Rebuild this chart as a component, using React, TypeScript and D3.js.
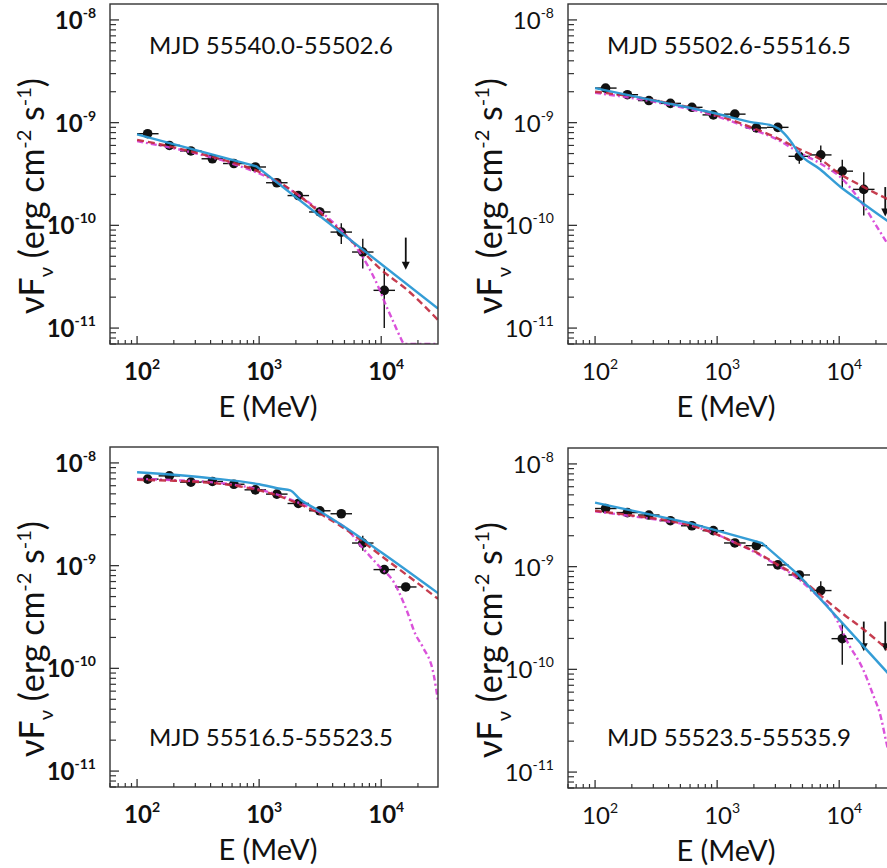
import React from 'react';
import * as d3 from 'd3';

// ---------- shared energy bins (MeV) ----------
const BIN_LO = [100, 150, 225, 337.5, 506, 759, 1139, 1709, 2563, 3844, 5767, 8650, 12975, 19462];
const BIN_HI = [150, 225, 337.5, 506, 759, 1139, 1709, 2563, 3844, 5767, 8650, 12975, 19462, 29193];
const BIN_C = [122, 184, 276, 414, 621, 931, 1397, 2095, 3139, 4709, 7063, 10595, 15891, 23836];

const X_TICKS = [100, 1000, 10000];
const X_TICK_EXP = ['2', '3', '4'];
const Y_TICKS = [1e-8, 1e-9, 1e-10, 1e-11];
const Y_TICK_EXP = ['-8', '-9', '-10', '-11'];

const TITLES = ['MJD 55540.0-55502.6', 'MJD 55502.6-55516.5', 'MJD 55516.5-55523.5', 'MJD 55523.5-55535.9'];

// ---------- panel A ----------
const A_FLUX = [7.8e-10, 6.0e-10, 5.3e-10, 4.45e-10, 4.0e-10, 3.7e-10, 2.6e-10, 1.95e-10, 1.35e-10, 8.6e-11, 5.5e-11, 2.33e-11];
const A_LO = [7.3e-10, 5.6e-10, 4.95e-10, 4.15e-10, 3.75e-10, 3.45e-10, 2.4e-10, 1.8e-10, 1.2e-10, 6.6e-11, 3.8e-11, 1.0e-11];
const A_HI = [8.3e-10, 6.4e-10, 5.65e-10, 4.75e-10, 4.25e-10, 3.95e-10, 2.8e-10, 2.1e-10, 1.5e-10, 1.05e-10, 7.4e-11, 3.8e-11];
const A_UL_BIN = [12];
const A_UL_TOP = [7.6e-11];
const A_UL_TIP = [3.7e-11];
const A_BLUE_E = [100, 950, 29193];
const A_BLUE_F = [7.7e-10, 3.75e-10, 1.55e-11];
const A_RED_E = [100, 150, 250, 400, 600, 900, 1400, 2000, 3000, 4600, 7000, 10000, 16000, 29193];
const A_RED_F = [6.8e-10, 6.2e-10, 5.4e-10, 4.7e-10, 4.1e-10, 3.5e-10, 2.7e-10, 2.05e-10, 1.4e-10, 8.9e-11, 5.6e-11, 3.7e-11, 2.4e-11, 1.2e-11];
const A_MAG_E = [100, 250, 600, 1400, 2500, 4600, 6000, 7900, 9500, 11100, 12800, 14300, 15500, 29193];
const A_MAG_F = [6.6e-10, 5.3e-10, 4.0e-10, 2.65e-10, 1.7e-10, 9.2e-11, 6.5e-11, 3.9e-11, 2.5e-11, 1.6e-11, 1.1e-11, 8.2e-12, 7e-12, 7e-12];

// ---------- panel B ----------
const B_FLUX = [2.17e-9, 1.87e-9, 1.64e-9, 1.54e-9, 1.41e-9, 1.19e-9, 1.21e-9, 8.9e-10, 9.0e-10, 4.7e-10, 4.85e-10, 3.37e-10, 2.24e-10];
const B_LO = [2.05e-9, 1.77e-9, 1.55e-9, 1.46e-9, 1.33e-9, 1.11e-9, 1.12e-9, 8.1e-10, 8.1e-10, 3.97e-10, 4.12e-10, 2.27e-10, 1.25e-10];
const B_HI = [2.3e-9, 1.97e-9, 1.74e-9, 1.63e-9, 1.49e-9, 1.27e-9, 1.3e-9, 9.7e-10, 9.9e-10, 5.35e-10, 5.98e-10, 4.35e-10, 3.29e-10];
const B_UL_BIN = [13];
const B_UL_TOP = [2.36e-10];
const B_UL_TIP = [1.22e-10];
const B_BLUE_E = [100, 300, 1000, 2000, 2700, 3200, 4000, 4640, 7000, 10260, 15000, 25700, 29193];
const B_BLUE_F = [2.17e-9, 1.65e-9, 1.22e-9, 1.0e-9, 9.5e-10, 8.7e-10, 6.6e-10, 5.1e-10, 3.5e-10, 2.36e-10, 1.7e-10, 1.08e-10, 9.8e-11];
const B_RED_E = [100, 200, 400, 700, 1000, 1500, 2000, 3000, 4600, 7000, 10000, 15000, 20000, 29193];
const B_RED_F = [2.0e-9, 1.8e-9, 1.55e-9, 1.35e-9, 1.18e-9, 1.0e-9, 8.8e-10, 7.2e-10, 5.6e-10, 4.4e-10, 3.2e-10, 2.45e-10, 2.05e-10, 1.65e-10];
const B_MAG_E = [100, 300, 1000, 2000, 3000, 4600, 7000, 10260, 15500, 21300, 25700, 29193];
const B_MAG_F = [1.95e-9, 1.6e-9, 1.15e-9, 8.5e-10, 7.0e-10, 5.2e-10, 4.0e-10, 2.94e-10, 1.62e-10, 8.9e-11, 6.2e-11, 4.8e-11];

// ---------- panel C ----------
const C_FLUX = [6.95e-9, 7.48e-9, 6.5e-9, 6.6e-9, 6.2e-9, 5.47e-9, 4.97e-9, 4.03e-9, 3.42e-9, 3.2e-9, 1.66e-9, 9.15e-10, 6.2e-10];
const C_LO = [6.55e-9, 7.05e-9, 6.1e-9, 6.2e-9, 5.85e-9, 5.15e-9, 4.65e-9, 3.75e-9, 3.18e-9, 2.98e-9, 1.4e-9, 8.4e-10, 5.7e-10];
const C_HI = [7.35e-9, 7.9e-9, 6.9e-9, 7.0e-9, 6.55e-9, 5.8e-9, 5.3e-9, 4.3e-9, 3.66e-9, 3.42e-9, 1.95e-9, 9.9e-10, 6.7e-10];
const C_UL_BIN: number[] = [];
const C_UL_TOP: number[] = [];
const C_UL_TIP: number[] = [];
const C_BLUE_E = [100, 400, 1000, 1500, 1800, 2170, 3000, 4610, 10000, 29193];
const C_BLUE_F = [8.1e-9, 7.1e-9, 6.2e-9, 5.6e-9, 5.4e-9, 4.4e-9, 3.5e-9, 2.54e-9, 1.35e-9, 5.4e-10];
const C_RED_E = [100, 200, 400, 700, 1000, 1500, 2000, 3000, 4600, 6700, 9800, 15000, 29193];
const C_RED_F = [6.85e-9, 6.7e-9, 6.4e-9, 5.9e-9, 5.4e-9, 4.7e-9, 4.1e-9, 3.3e-9, 2.45e-9, 1.8e-9, 1.27e-9, 8.7e-10, 4.75e-10];
const C_MAG_E = [100, 200, 400, 700, 1000, 1500, 2000, 3000, 4000, 5240, 7000, 9820, 12600, 16200, 19000, 22000, 26900, 29193];
const C_MAG_F = [7.0e-9, 6.8e-9, 6.5e-9, 6.0e-9, 5.5e-9, 4.8e-9, 4.2e-9, 3.4e-9, 2.8e-9, 2.27e-9, 1.5e-9, 9.6e-10, 7.0e-10, 3.65e-10, 2.17e-10, 1.6e-10, 8.7e-11, 4.8e-11];

// ---------- panel D ----------
const D_FLUX = [3.68e-9, 3.36e-9, 3.18e-9, 2.8e-9, 2.5e-9, 2.24e-9, 1.7e-9, 1.6e-9, 1.04e-9, 8.3e-10, 5.85e-10, 1.99e-10];
const D_LO = [3.47e-9, 3.17e-9, 3.0e-9, 2.64e-9, 2.36e-9, 2.11e-9, 1.6e-9, 1.5e-9, 9.7e-10, 7.7e-10, 5.3e-10, 1.11e-10];
const D_HI = [3.9e-9, 3.56e-9, 3.37e-9, 2.97e-9, 2.65e-9, 2.37e-9, 1.8e-9, 1.7e-9, 1.11e-9, 8.9e-10, 7.2e-10, 2.82e-10];
const D_UL_BIN = [12, 13];
const D_UL_TOP = [2.92e-10, 2.92e-10];
const D_UL_TIP = [1.5e-10, 1.5e-10];
const D_BLUE_E = [100, 600, 2330, 4640, 25700, 29193];
const D_BLUE_F = [4.2e-9, 2.65e-9, 1.7e-9, 8.3e-10, 8.9e-11, 7.8e-11];
const D_RED_E = [100, 200, 400, 700, 1000, 1500, 2000, 3030, 4640, 7240, 10000, 15500, 25700, 29193];
const D_RED_F = [3.5e-9, 3.15e-9, 2.8e-9, 2.4e-9, 2.05e-9, 1.65e-9, 1.42e-9, 1.07e-9, 7.9e-10, 5.1e-10, 3.7e-10, 2.5e-10, 1.5e-10, 1.3e-10];
const D_MAG_E = [100, 200, 400, 700, 1000, 1500, 2000, 3030, 4640, 6500, 8750, 12000, 15500, 19400, 21300, 25700, 29193];
const D_MAG_F = [3.45e-9, 3.1e-9, 2.75e-9, 2.4e-9, 2.05e-9, 1.65e-9, 1.4e-9, 1.05e-9, 7.6e-10, 5.3e-10, 3.65e-10, 1.74e-10, 1.03e-10, 5.25e-11, 3.9e-11, 1.5e-11, 1.0e-11];

const X_DOMAIN = [60, 29193];
const Y_DOMAIN = [Math.pow(10, -11.155), Math.pow(10, -7.845)];

const FONT = "Lato, 'Open Sans', 'DejaVu Sans', sans-serif";
const BLUE = '#2a98d4';
const RED = '#c0283c';
const MAG = '#d63fd6';

type PanelProps = {
  id: string;
  left: number;
  top: number;
  bold: boolean;
  title: string;
  titleY: number;
  flux: number[];
  lo: number[];
  hi: number[];
  ulBin: number[];
  ulTop: number[];
  ulTip: number[];
  blueE: number[];
  blueF: number[];
  blueCurve: any;
  redE: number[];
  redF: number[];
  magE: number[];
  magF: number[];
};

const W = 328;
const H = 340;

function Panel(p: PanelProps) {
  const x = d3.scaleLog().domain(X_DOMAIN).range([0, W]);
  const y = d3.scaleLog().domain(Y_DOMAIN).range([H, 0]);
  const yc = (v: number) => y(Math.max(v, Y_DOMAIN[0]));
  const mk = (E: number[], F: number[], curve: any) =>
    d3.line<number>().x((_, i) => x(E[i])).y((_, i) => yc(F[i])).curve(curve)(E.map((_, i) => i)) || '';

  const xMinor: number[] = [];
  for (let d = 1; d <= 4; d++) for (let m = 2; m <= 9; m++) {
    const v = m * Math.pow(10, d);
    if (v >= X_DOMAIN[0] && v <= X_DOMAIN[1]) xMinor.push(v);
  }
  const yMinor: number[] = [];
  for (let d = -12; d <= -8; d++) for (let m = 2; m <= 9; m++) {
    const v = m * Math.pow(10, d);
    if (v >= Y_DOMAIN[0] && v <= Y_DOMAIN[1]) yMinor.push(v);
  }
  const fw = p.bold ? 700 : 400;
  const clip = `clip-${p.id}`;
  return (
    <g transform={`translate(${p.left},${p.top})`}>
      <defs>
        <clipPath id={clip}><rect x={0} y={0} width={W} height={H} /></clipPath>
      </defs>
      {/* ticks */}
      {xMinor.map((v) => (
        <line key={'xm' + v} x1={x(v)} x2={x(v)} y1={H} y2={H - 4} stroke="#333" strokeWidth={1.2} />
      ))}
      {X_TICKS.map((v) => (
        <line key={'xM' + v} x1={x(v)} x2={x(v)} y1={H} y2={H - 8} stroke="#333" strokeWidth={1.3} />
      ))}
      {yMinor.map((v) => (
        <line key={'ym' + v} x1={0} x2={6} y1={y(v)} y2={y(v)} stroke="#333" strokeWidth={1.2} />
      ))}
      {Y_TICKS.map((v) => (
        <line key={'yM' + v} x1={0} x2={9} y1={y(v)} y2={y(v)} stroke="#333" strokeWidth={1.3} />
      ))}
      {/* tick labels */}
      {X_TICKS.map((v, i) => (
        <text key={'xl' + v} x={x(v) + 5} y={H + 36} textAnchor="middle" fontFamily={FONT} fontSize={24} fontWeight={fw} fill="#111">
          10<tspan dy={-11} fontSize={14}>{X_TICK_EXP[i]}</tspan>
        </text>
      ))}
      {Y_TICKS.map((v, i) => (
        <text key={'yl' + v} x={-14} y={y(v) + 9} textAnchor="end" fontFamily={FONT} fontSize={24} fontWeight={fw} fill="#111">
          10<tspan dy={-11} fontSize={14}>{Y_TICK_EXP[i]}</tspan>
        </text>
      ))}
      {/* axis labels */}
      <text x={158} y={H + 73} textAnchor="middle" fontFamily={FONT} fontSize={29} fill="#111">E (MeV)</text>
      <text transform={`translate(${-66},${192}) rotate(-90)`} textAnchor="middle" fontFamily={FONT} fontSize={34} fill="#111">
        νF<tspan dy={9} fontSize={20}>ν</tspan>
        <tspan dy={-9}> (erg cm</tspan>
        <tspan dy={-13} fontSize={20}>-2</tspan>
        <tspan dy={13}> s</tspan>
        <tspan dy={-13} fontSize={20}>-1</tspan>
        <tspan dy={13}>)</tspan>
      </text>
      {/* title */}
      <text x={161} y={p.titleY} textAnchor="middle" fontFamily={FONT} fontSize={24} fill="#111">{p.title}</text>
      {/* data */}
      <g clipPath={`url(#${clip})`}>
        {p.flux.map((f, i) => (
          <g key={'pt' + i}>
            <line x1={x(BIN_LO[i])} x2={x(BIN_HI[i])} y1={y(f)} y2={y(f)} stroke="#111" strokeWidth={1.4} />
            <line x1={x(BIN_C[i])} x2={x(BIN_C[i])} y1={yc(p.lo[i])} y2={y(p.hi[i])} stroke="#111" strokeWidth={1.4} />
            <circle cx={x(BIN_C[i])} cy={y(f)} r={4.8} fill="#111" />
          </g>
        ))}
        {p.ulBin.map((b, i) => {
          const cx = x(BIN_C[b]);
          const t = y(p.ulTip[i]);
          return (
            <g key={'ul' + i}>
              <line x1={cx} x2={cx} y1={y(p.ulTop[i])} y2={t - 5} stroke="#111" strokeWidth={1.8} />
              <path d={`M${cx - 4},${t - 8}L${cx + 4},${t - 8}L${cx},${t}Z`} fill="#111" />
            </g>
          );
        })}
        <path d={mk(p.magE, p.magF, d3.curveMonotoneX)} fill="none" stroke={MAG} strokeWidth={2.4} strokeDasharray="6,3,2,3" opacity={0.9} />
        <path d={mk(p.redE, p.redF, d3.curveMonotoneX)} fill="none" stroke={RED} strokeWidth={2.4} strokeDasharray="7,4" opacity={0.9} />
        <path d={mk(p.blueE, p.blueF, p.blueCurve)} fill="none" stroke={BLUE} strokeWidth={2.4} opacity={0.95} />
      </g>
      {/* frame */}
      <rect x={0} y={0} width={W} height={H} fill="none" stroke="#333" strokeWidth={1.4} />
    </g>
  );
}

export default function App() {
  return (
    <svg width={887} height={868} style={{ position: 'absolute', left: 0, top: 0, background: '#fff' }}>
      <rect x={0} y={0} width={887} height={868} fill="#fff" />
      <Panel id="a" left={110} top={4} bold={true} title={TITLES[0]} titleY={50}
        flux={A_FLUX} lo={A_LO} hi={A_HI} ulBin={A_UL_BIN} ulTop={A_UL_TOP} ulTip={A_UL_TIP}
        blueE={A_BLUE_E} blueF={A_BLUE_F} blueCurve={d3.curveLinear}
        redE={A_RED_E} redF={A_RED_F} magE={A_MAG_E} magF={A_MAG_F} />
      <Panel id="b" left={568} top={4} bold={false} title={TITLES[1]} titleY={50}
        flux={B_FLUX} lo={B_LO} hi={B_HI} ulBin={B_UL_BIN} ulTop={B_UL_TOP} ulTip={B_UL_TIP}
        blueE={B_BLUE_E} blueF={B_BLUE_F} blueCurve={d3.curveMonotoneX}
        redE={B_RED_E} redF={B_RED_F} magE={B_MAG_E} magF={B_MAG_F} />
      <Panel id="c" left={110} top={447} bold={true} title={TITLES[2]} titleY={299}
        flux={C_FLUX} lo={C_LO} hi={C_HI} ulBin={C_UL_BIN} ulTop={C_UL_TOP} ulTip={C_UL_TIP}
        blueE={C_BLUE_E} blueF={C_BLUE_F} blueCurve={d3.curveMonotoneX}
        redE={C_RED_E} redF={C_RED_F} magE={C_MAG_E} magF={C_MAG_F} />
      <Panel id="d" left={568} top={448} bold={false} title={TITLES[3]} titleY={298}
        flux={D_FLUX} lo={D_LO} hi={D_HI} ulBin={D_UL_BIN} ulTop={D_UL_TOP} ulTip={D_UL_TIP}
        blueE={D_BLUE_E} blueF={D_BLUE_F} blueCurve={d3.curveLinear}
        redE={D_RED_E} redF={D_RED_F} magE={D_MAG_E} magF={D_MAG_F} />
    </svg>
  );
}
